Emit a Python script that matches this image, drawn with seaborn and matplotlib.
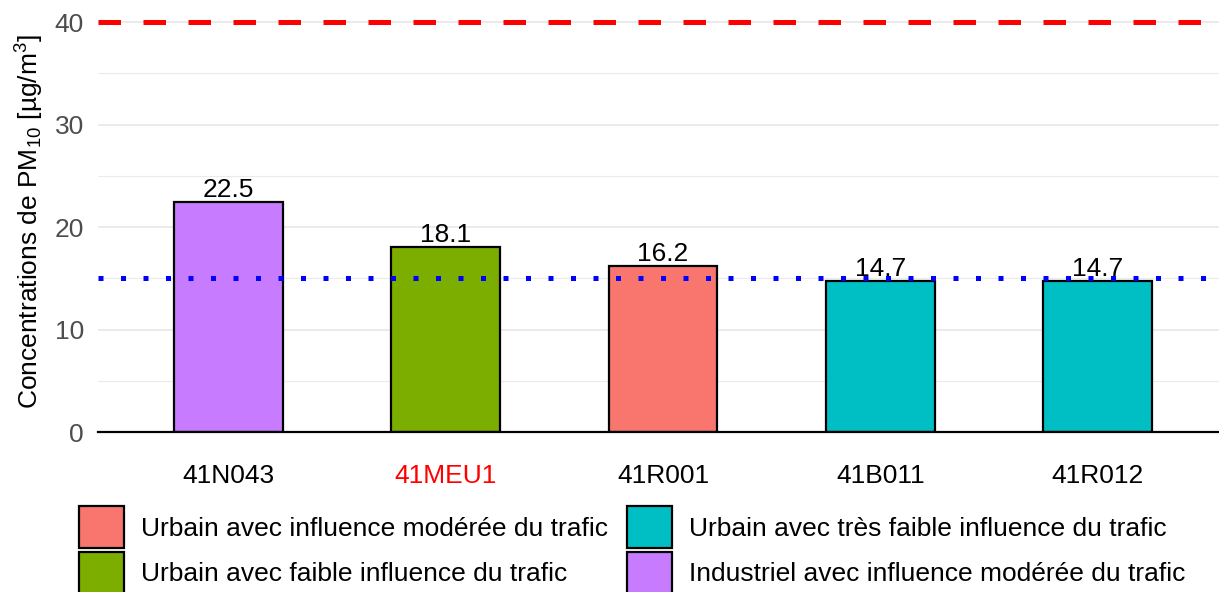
import matplotlib
matplotlib.use("Agg")
import matplotlib.pyplot as plt
import matplotlib.patches as mpatches
import seaborn as sns
import pandas as pd

stations = ["41N043", "41MEU1", "41R001", "41B011", "41R012"]
values = [22.5, 18.1, 16.2, 14.7, 14.7]
categories = [
    "Industriel avec influence modérée du trafic",
    "Urbain avec faible influence du trafic",
    "Urbain avec influence modérée du trafic",
    "Urbain avec très faible influence du trafic",
    "Urbain avec très faible influence du trafic",
]
legend_order = [
    "Urbain avec influence modérée du trafic",
    "Urbain avec faible influence du trafic",
    "Urbain avec très faible influence du trafic",
    "Industriel avec influence modérée du trafic",
]
colors = ["#F8766D", "#7CAE00", "#00BFC4", "#C77CFF"]
palette = dict(zip(legend_order, colors))
who_limit = 40
guideline = 15

sns.set_theme(style="white")
plt.rcParams["font.family"] = ["Liberation Sans", "DejaVu Sans"]
plt.rcParams["mathtext.fontset"] = "custom"
plt.rcParams["mathtext.rm"] = "Liberation Sans"
plt.rcParams["mathtext.it"] = "Liberation Sans"
plt.rcParams["mathtext.bf"] = "Liberation Sans"

FS = 19

df = pd.DataFrame({"station": stations, "value": values, "cat": categories})

fig = plt.figure(figsize=(12.19, 5.92), dpi=100)
ax = fig.add_axes([98 / 1219, 1 - 432 / 592, 1130 / 1219, 420 / 592])

sns.barplot(data=df, x="station", y="value", hue="cat", hue_order=legend_order,
            palette=palette, dodge=False, width=0.5, edgecolor="black", saturation=1,
            linewidth=1.6, legend=False, ax=ax, order=stations, zorder=3)

for c in ax.containers:
    ax.bar_label(c, fmt="%.1f", padding=0, fontsize=FS, color="black", zorder=5)

ax.set_ylim(0, 41)
ax.set_xlim(-0.6, 4.6)
ax.set_yticks([0, 10, 20, 30, 40])
ax.set_yticks([5, 15, 25, 35], minor=True)
ax.grid(axis="y", which="major", color="#EBEBEB", linewidth=1.4, zorder=0)
ax.grid(axis="y", which="minor", color="#EBEBEB", linewidth=0.8, zorder=0)
ax.grid(axis="x", visible=False)
ax.set_axisbelow(True)

ax.axhline(who_limit, color="red", linestyle=(0, (4.5, 4.5)), linewidth=3.6, zorder=4)
ax.axhline(guideline, color="blue", linestyle=(0, (1, 3.5)), linewidth=3.6, zorder=4)

for s in ["top", "right", "left"]:
    ax.spines[s].set_visible(False)
ax.spines["bottom"].set_color("black")
ax.spines["bottom"].set_linewidth(1.6)
ax.spines["bottom"].set_zorder(6)

ax.tick_params(axis="y", length=0, pad=10, labelsize=FS, labelcolor="#4D4D4D")
ax.tick_params(axis="x", length=0, pad=23, labelsize=FS, labelcolor="black")
for lbl in ax.get_xticklabels():
    if lbl.get_text() == "41MEU1":
        lbl.set_color("red")

ax.set_xlabel("")
ax.set_ylabel("Concentrations de PM$_{10}$ [µg/m$^3$]", fontsize=FS, color="black", labelpad=6)

handles = [mpatches.Patch(facecolor=palette[c], edgecolor="black", linewidth=1.6, label=c)
           for c in legend_order]
fig.legend(handles=handles, loc="upper left", bbox_to_anchor=(79 / 1219, 1 - 506 / 592),
           ncol=2, frameon=False, fontsize=FS, handlelength=1.7, handleheight=2.1,
           handletextpad=0.65, columnspacing=0.72, labelspacing=0.12, borderpad=0,
           borderaxespad=0, labelcolor="black")

fig.savefig("out.png", dpi=100)
